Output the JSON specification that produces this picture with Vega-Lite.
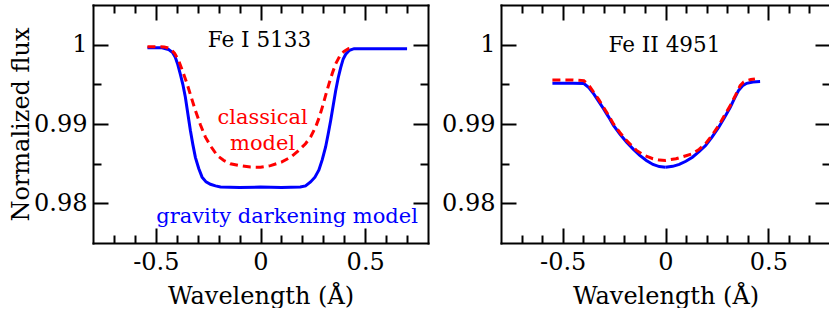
{
  "$schema": "https://vega.github.io/schema/vega-lite/v6.json",
  "padding": {"left": 9, "top": 4, "right": 0, "bottom": 0},
  "spacing": 12,
  "config": {
    "view": {"stroke": null},
    "font": "DejaVu Serif",
    "axis": {"grid": false, "domainColor": "black", "domainWidth": 2, "domainCap": "square", "tickColor": "black", "tickWidth": 2, "labelColor": "black", "titleColor": "black", "labelFont": "DejaVu Serif", "titleFont": "DejaVu Serif", "labelFontSize": 24, "titleFontSize": 24, "titleFontWeight": "normal"}
  },
  "datasets": {
    "fe1": [
      {"model": "gravity darkening", "x": -0.54, "y": 0.9996},
      {"model": "gravity darkening", "x": -0.47, "y": 0.9996},
      {"model": "gravity darkening", "x": -0.44, "y": 0.9994},
      {"model": "gravity darkening", "x": -0.42, "y": 0.999},
      {"model": "gravity darkening", "x": -0.407, "y": 0.9984},
      {"model": "gravity darkening", "x": -0.395, "y": 0.9975},
      {"model": "gravity darkening", "x": -0.383, "y": 0.9963},
      {"model": "gravity darkening", "x": -0.371, "y": 0.995},
      {"model": "gravity darkening", "x": -0.359, "y": 0.9934},
      {"model": "gravity darkening", "x": -0.347, "y": 0.9913},
      {"model": "gravity darkening", "x": -0.335, "y": 0.9892},
      {"model": "gravity darkening", "x": -0.323, "y": 0.9874},
      {"model": "gravity darkening", "x": -0.311, "y": 0.9858},
      {"model": "gravity darkening", "x": -0.295, "y": 0.9844},
      {"model": "gravity darkening", "x": -0.279, "y": 0.9833},
      {"model": "gravity darkening", "x": -0.26, "y": 0.9827},
      {"model": "gravity darkening", "x": -0.239, "y": 0.9824},
      {"model": "gravity darkening", "x": -0.215, "y": 0.9822},
      {"model": "gravity darkening", "x": -0.191, "y": 0.98205},
      {"model": "gravity darkening", "x": -0.1, "y": 0.982},
      {"model": "gravity darkening", "x": 0, "y": 0.98205},
      {"model": "gravity darkening", "x": 0.1, "y": 0.982},
      {"model": "gravity darkening", "x": 0.19, "y": 0.98205},
      {"model": "gravity darkening", "x": 0.215, "y": 0.9822},
      {"model": "gravity darkening", "x": 0.239, "y": 0.9827},
      {"model": "gravity darkening", "x": 0.26, "y": 0.9833},
      {"model": "gravity darkening", "x": 0.279, "y": 0.9842},
      {"model": "gravity darkening", "x": 0.295, "y": 0.9855},
      {"model": "gravity darkening", "x": 0.311, "y": 0.9871},
      {"model": "gravity darkening", "x": 0.323, "y": 0.9887},
      {"model": "gravity darkening", "x": 0.335, "y": 0.9904},
      {"model": "gravity darkening", "x": 0.347, "y": 0.9923},
      {"model": "gravity darkening", "x": 0.359, "y": 0.9942},
      {"model": "gravity darkening", "x": 0.371, "y": 0.9958},
      {"model": "gravity darkening", "x": 0.383, "y": 0.9971},
      {"model": "gravity darkening", "x": 0.395, "y": 0.9982},
      {"model": "gravity darkening", "x": 0.407, "y": 0.9988},
      {"model": "gravity darkening", "x": 0.425, "y": 0.9993},
      {"model": "gravity darkening", "x": 0.447, "y": 0.9995},
      {"model": "gravity darkening", "x": 0.5, "y": 0.9995},
      {"model": "gravity darkening", "x": 0.6, "y": 0.9995},
      {"model": "gravity darkening", "x": 0.7, "y": 0.9995},
      {"model": "classical", "x": -0.54, "y": 0.99975},
      {"model": "classical", "x": -0.46, "y": 0.99972},
      {"model": "classical", "x": -0.431, "y": 0.9995},
      {"model": "classical", "x": -0.41, "y": 0.9989},
      {"model": "classical", "x": -0.391, "y": 0.998},
      {"model": "classical", "x": -0.371, "y": 0.9966},
      {"model": "classical", "x": -0.351, "y": 0.9951},
      {"model": "classical", "x": -0.331, "y": 0.9934},
      {"model": "classical", "x": -0.311, "y": 0.9917},
      {"model": "classical", "x": -0.287, "y": 0.9899},
      {"model": "classical", "x": -0.263, "y": 0.98834},
      {"model": "classical", "x": -0.235, "y": 0.9871},
      {"model": "classical", "x": -0.207, "y": 0.98604},
      {"model": "classical", "x": -0.175, "y": 0.9854},
      {"model": "classical", "x": -0.144, "y": 0.98499},
      {"model": "classical", "x": -0.1, "y": 0.98475},
      {"model": "classical", "x": -0.048, "y": 0.98457},
      {"model": "classical", "x": 0, "y": 0.98455},
      {"model": "classical", "x": 0.048, "y": 0.98475},
      {"model": "classical", "x": 0.1, "y": 0.9852},
      {"model": "classical", "x": 0.144, "y": 0.98582},
      {"model": "classical", "x": 0.18, "y": 0.9866},
      {"model": "classical", "x": 0.215, "y": 0.98751},
      {"model": "classical", "x": 0.24, "y": 0.9884},
      {"model": "classical", "x": 0.263, "y": 0.9896},
      {"model": "classical", "x": 0.28, "y": 0.9908},
      {"model": "classical", "x": 0.295, "y": 0.9921},
      {"model": "classical", "x": 0.311, "y": 0.9936},
      {"model": "classical", "x": 0.327, "y": 0.99506},
      {"model": "classical", "x": 0.343, "y": 0.9964},
      {"model": "classical", "x": 0.359, "y": 0.99757},
      {"model": "classical", "x": 0.379, "y": 0.9986},
      {"model": "classical", "x": 0.399, "y": 0.99916},
      {"model": "classical", "x": 0.42, "y": 0.9995},
      {"model": "classical", "x": 0.447, "y": 0.9996}
    ],
    "fe2": [
      {"model": "gravity darkening", "x": -0.55, "y": 0.99513},
      {"model": "gravity darkening", "x": -0.45, "y": 0.99513},
      {"model": "gravity darkening", "x": -0.397, "y": 0.9951},
      {"model": "gravity darkening", "x": -0.373, "y": 0.9946},
      {"model": "gravity darkening", "x": -0.349, "y": 0.9938},
      {"model": "gravity darkening", "x": -0.325, "y": 0.99285},
      {"model": "gravity darkening", "x": -0.301, "y": 0.99191},
      {"model": "gravity darkening", "x": -0.277, "y": 0.9909},
      {"model": "gravity darkening", "x": -0.253, "y": 0.98981},
      {"model": "gravity darkening", "x": -0.221, "y": 0.98871},
      {"model": "gravity darkening", "x": -0.189, "y": 0.98771},
      {"model": "gravity darkening", "x": -0.157, "y": 0.98683},
      {"model": "gravity darkening", "x": -0.125, "y": 0.98604},
      {"model": "gravity darkening", "x": -0.093, "y": 0.98541},
      {"model": "gravity darkening", "x": -0.061, "y": 0.9849},
      {"model": "gravity darkening", "x": -0.03, "y": 0.98463},
      {"model": "gravity darkening", "x": 0, "y": 0.98455},
      {"model": "gravity darkening", "x": 0.035, "y": 0.98466},
      {"model": "gravity darkening", "x": 0.067, "y": 0.9849},
      {"model": "gravity darkening", "x": 0.099, "y": 0.9853},
      {"model": "gravity darkening", "x": 0.131, "y": 0.98582},
      {"model": "gravity darkening", "x": 0.163, "y": 0.98652},
      {"model": "gravity darkening", "x": 0.195, "y": 0.98729},
      {"model": "gravity darkening", "x": 0.227, "y": 0.98838},
      {"model": "gravity darkening", "x": 0.259, "y": 0.9896},
      {"model": "gravity darkening", "x": 0.287, "y": 0.99083},
      {"model": "gravity darkening", "x": 0.315, "y": 0.99211},
      {"model": "gravity darkening", "x": 0.335, "y": 0.9932},
      {"model": "gravity darkening", "x": 0.355, "y": 0.99421},
      {"model": "gravity darkening", "x": 0.375, "y": 0.99483},
      {"model": "gravity darkening", "x": 0.395, "y": 0.99513},
      {"model": "gravity darkening", "x": 0.425, "y": 0.9953},
      {"model": "gravity darkening", "x": 0.46, "y": 0.99535},
      {"model": "classical", "x": -0.55, "y": 0.99556},
      {"model": "classical", "x": -0.45, "y": 0.99556},
      {"model": "classical", "x": -0.397, "y": 0.99547},
      {"model": "classical", "x": -0.373, "y": 0.9949},
      {"model": "classical", "x": -0.349, "y": 0.994},
      {"model": "classical", "x": -0.325, "y": 0.9931},
      {"model": "classical", "x": -0.301, "y": 0.9921},
      {"model": "classical", "x": -0.277, "y": 0.9911},
      {"model": "classical", "x": -0.253, "y": 0.99},
      {"model": "classical", "x": -0.221, "y": 0.9889},
      {"model": "classical", "x": -0.189, "y": 0.9879},
      {"model": "classical", "x": -0.141, "y": 0.98667},
      {"model": "classical", "x": -0.1, "y": 0.986},
      {"model": "classical", "x": -0.061, "y": 0.98562},
      {"model": "classical", "x": -0.03, "y": 0.98545},
      {"model": "classical", "x": 0, "y": 0.98541},
      {"model": "classical", "x": 0.051, "y": 0.98562},
      {"model": "classical", "x": 0.1, "y": 0.986},
      {"model": "classical", "x": 0.131, "y": 0.98625},
      {"model": "classical", "x": 0.163, "y": 0.9868},
      {"model": "classical", "x": 0.195, "y": 0.98751},
      {"model": "classical", "x": 0.227, "y": 0.98862},
      {"model": "classical", "x": 0.259, "y": 0.98981},
      {"model": "classical", "x": 0.287, "y": 0.9911},
      {"model": "classical", "x": 0.315, "y": 0.99233},
      {"model": "classical", "x": 0.34, "y": 0.9936},
      {"model": "classical", "x": 0.363, "y": 0.99484},
      {"model": "classical", "x": 0.38, "y": 0.9953},
      {"model": "classical", "x": 0.395, "y": 0.99547},
      {"model": "classical", "x": 0.415, "y": 0.9956},
      {"model": "classical", "x": 0.435, "y": 0.99568}
    ],
    "notes1": [
      {"x": 0.01, "y": 0.99006, "text": "classical", "model": "classical"},
      {"x": 0.01, "y": 0.98667, "text": "model", "model": "classical"},
      {"x": 0.127, "y": 0.97752, "text": "gravity darkening model", "model": "gravity darkening"}
    ],
    "title1": [{"x": -0.005, "y": 0.99966, "text": "Fe I 5133"}],
    "title2": [{"x": -0.005, "y": 0.99903, "text": "Fe II 4951"}]
  },
  "hconcat": [
    {
      "width": 335,
      "height": 238,
      "resolve": {"axis": {"x": "independent", "y": "independent"}},
      "layer": [
        {
          "data": {"name": "fe1"},
          "transform": [{"filter": "datum.model === 'gravity darkening'"}],
          "mark": {"type": "line", "color": "#0000ff", "strokeWidth": 3},
          "encoding": {
            "x": {"field": "x", "type": "quantitative", "scale": {"domain": [-0.8, 0.8], "nice": false, "zero": false},
              "axis": {"orient": "bottom", "values": [-0.5, 0, 0.5], "tickSize": -15, "labelPadding": 22, "labelExpr": "'' + datum.value", "title": "Wavelength (Å)", "titlePadding": 10, "domain": true}},
            "y": {"field": "y", "type": "quantitative", "scale": {"domain": [0.975, 1.005], "nice": false, "zero": false},
              "axis": {"orient": "left", "values": [0.98, 0.99, 1], "tickSize": -15, "labelPadding": 21, "labelExpr": "'' + datum.value", "title": "Normalized flux", "titlePadding": 0, "domain": true}}
          }
        },
        {
          "data": {"name": "fe1"},
          "transform": [{"filter": "datum.model === 'classical'"}],
          "mark": {"type": "line", "color": "#ff0000", "strokeWidth": 3, "strokeDash": [8, 5]},
          "encoding": {
            "x": {"field": "x", "type": "quantitative", "axis": {"orient": "top", "values": [-0.5, 0, 0.5], "tickSize": -15, "labels": false, "title": null, "domain": true}},
            "y": {"field": "y", "type": "quantitative", "axis": {"orient": "right", "values": [0.98, 0.99, 1], "tickSize": -15, "labels": false, "title": null, "domain": true}}
          }
        },
        {
          "data": {"name": "notes1"},
          "mark": {"type": "text", "font": "DejaVu Serif", "fontSize": 21, "align": "center", "baseline": "alphabetic"},
          "encoding": {
            "x": {"field": "x", "type": "quantitative", "axis": {"orient": "bottom", "values": [-0.7, -0.6, -0.4, -0.3, -0.2, -0.1, 0.1, 0.2, 0.3, 0.4, 0.6, 0.7], "tickSize": -8, "labels": false, "title": null, "domain": false}},
            "y": {"field": "y", "type": "quantitative", "axis": {"orient": "left", "values": [0.985, 0.995], "tickSize": -8, "labels": false, "title": null, "domain": false}},
            "text": {"field": "text"},
            "color": {"field": "model", "type": "nominal", "scale": {"domain": ["classical", "gravity darkening"], "range": ["#ff0000", "#0000ff"]}, "legend": null}
          }
        },
        {
          "data": {"name": "title1"},
          "mark": {"type": "text", "font": "DejaVu Serif", "fontSize": 21.5, "align": "center", "baseline": "alphabetic", "color": "black"},
          "encoding": {
            "x": {"field": "x", "type": "quantitative", "axis": {"orient": "top", "values": [-0.7, -0.6, -0.4, -0.3, -0.2, -0.1, 0.1, 0.2, 0.3, 0.4, 0.6, 0.7], "tickSize": -8, "labels": false, "title": null, "domain": false}},
            "y": {"field": "y", "type": "quantitative", "axis": {"orient": "right", "values": [0.985, 0.995], "tickSize": -8, "labels": false, "title": null, "domain": false}},
            "text": {"field": "text"}
          }
        }
      ]
    },
    {
      "width": 329,
      "height": 238,
      "resolve": {"axis": {"x": "independent", "y": "independent"}},
      "layer": [
        {
          "data": {"name": "fe2"},
          "transform": [{"filter": "datum.model === 'gravity darkening' && datum.x <= 0"}],
          "mark": {"type": "line", "color": "#0000ff", "strokeWidth": 3},
          "encoding": {
            "x": {"field": "x", "type": "quantitative", "scale": {"domain": [-0.8, 0.8], "nice": false, "zero": false},
              "axis": {"orient": "bottom", "values": [-0.5, 0, 0.5], "tickSize": -15, "labelPadding": 22, "labelExpr": "'' + datum.value", "title": "Wavelength (Å)", "titlePadding": 10, "domain": true}},
            "y": {"field": "y", "type": "quantitative", "scale": {"domain": [0.975, 1.005], "nice": false, "zero": false},
              "axis": {"orient": "left", "values": [0.98, 0.99, 1], "tickSize": -15, "labelPadding": 21, "labelExpr": "'' + datum.value", "title": null, "domain": true}}
          }
        },
        {
          "data": {"name": "fe2"},
          "transform": [{"filter": "datum.model === 'gravity darkening' && datum.x >= 0"}],
          "mark": {"type": "line", "color": "#0000ff", "strokeWidth": 3},
          "encoding": {
            "x": {"field": "x", "type": "quantitative", "axis": {"orient": "top", "values": [-0.5, 0, 0.5], "tickSize": -15, "labels": false, "title": null, "domain": true}},
            "y": {"field": "y", "type": "quantitative", "axis": {"orient": "right", "values": [0.98, 0.99, 1], "tickSize": -15, "labels": false, "title": null, "domain": false}}
          }
        },
        {
          "data": {"name": "fe2"},
          "transform": [{"filter": "datum.model === 'classical'"}],
          "mark": {"type": "line", "color": "#ff0000", "strokeWidth": 3, "strokeDash": [8, 5]},
          "encoding": {
            "x": {"field": "x", "type": "quantitative", "axis": {"orient": "bottom", "values": [-0.7, -0.6, -0.4, -0.3, -0.2, -0.1, 0.1, 0.2, 0.3, 0.4, 0.6, 0.7], "tickSize": -8, "labels": false, "title": null, "domain": false}},
            "y": {"field": "y", "type": "quantitative", "axis": {"orient": "left", "values": [0.985, 0.995], "tickSize": -8, "labels": false, "title": null, "domain": false}}
          }
        },
        {
          "data": {"name": "title2"},
          "mark": {"type": "text", "font": "DejaVu Serif", "fontSize": 21.5, "align": "center", "baseline": "alphabetic", "color": "black"},
          "encoding": {
            "x": {"field": "x", "type": "quantitative", "axis": {"orient": "top", "values": [-0.7, -0.6, -0.4, -0.3, -0.2, -0.1, 0.1, 0.2, 0.3, 0.4, 0.6, 0.7], "tickSize": -8, "labels": false, "title": null, "domain": false}},
            "y": {"field": "y", "type": "quantitative", "axis": {"orient": "right", "values": [0.985, 0.995], "tickSize": -8, "labels": false, "title": null, "domain": false}},
            "text": {"field": "text"}
          }
        }
      ]
    }
  ]
}
